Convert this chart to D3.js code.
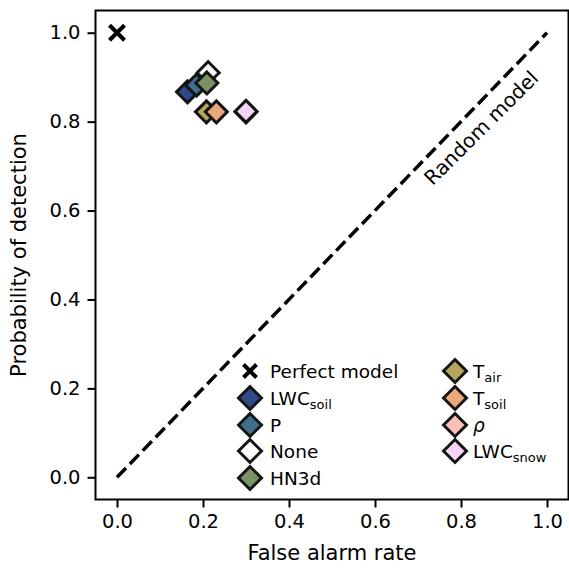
<!DOCTYPE html>
<html>
<head>
<meta charset="utf-8">
<script src="https://cdn.jsdelivr.net/npm/d3@7"></script>
<style>
  body { margin: 0; background: #fff; }
  svg { display: block; font-family: 'DejaVu Sans', sans-serif; }
</style>
</head>
<body>
<div id="chart"></div>
<script>
// model names (base + subscript), false alarm rate and probability of detection
const models = ['LWC_soil', 'P', 'None', 'HN3d', 'T_air', 'T_soil', 'rho', 'LWC_snow'];
const labelBase = ['LWC', 'P', 'None', 'HN3d', 'T', 'T', 'ρ', 'LWC'];
const labelSub = ['soil', '', '', '', 'air', 'soil', '', 'snow'];
const colors = ['#2e4a87', '#3f6f8c', '#ffffff', '#7a9166', '#b5a55d', '#eaa979', '#f8c0b7', '#f7d3f5'];
const falseAlarm = [0.164, 0.185, 0.212, 0.209, 0.208, 0.231, 0.300, 0.300];
const detection = [0.867, 0.882, 0.910, 0.887, 0.822, 0.822, 0.822, 0.823];

const perfect = { far: 0, pod: 1 };
const ticks = [0, 0.2, 0.4, 0.6, 0.8, 1.0];

const WIDTH = 569, HEIGHT = 570;
const margin = { LEFT: 95.5, RIGHT: 0.5, TOP: 10.5, BOTTOM: 70.5 };

const svg = d3.select('#chart').append('svg')
  .attr('width', WIDTH)
  .attr('height', HEIGHT);

const x = d3.scaleLinear().domain([-0.05, 1.05]).range([margin.LEFT, WIDTH - margin.RIGHT]);
const y = d3.scaleLinear().domain([-0.05, 1.05]).range([HEIGHT - margin.BOTTOM, margin.TOP]);

const EDGE = '#151515';

// diamond like matplotlib 'D'
const diamond = (r) => `M0,${-r}L${r},0L0,${r}L${-r},0Z`;
const cross = (r) => `M${-r},${-r}L${r},${r}M${-r},${r}L${r},${-r}`;

// random model line
svg.append('line')
  .attr('x1', x(0)).attr('y1', y(0))
  .attr('x2', x(1)).attr('y2', y(1))
  .attr('stroke', '#000')
  .attr('stroke-width', 3.5)
  .attr('stroke-dasharray', '12.95,5.6');

svg.append('text')
  .attr('transform', `translate(${x(0.847)},${y(0.786)}) rotate(-45)`)
  .attr('text-anchor', 'middle')
  .attr('dominant-baseline', 'central')
  .attr('font-size', '20px')
  .text('Random model');

// perfect model
svg.append('path')
  .attr('d', cross(7.5))
  .attr('transform', `translate(${x(perfect.far)},${y(perfect.pod)})`)
  .attr('stroke', '#000')
  .attr('stroke-width', 4)
  .attr('fill', 'none');

// model points
models.forEach((m, i) => {
  svg.append('path')
    .attr('d', diamond(11))
    .attr('transform', `translate(${x(falseAlarm[i])},${y(detection[i])})`)
    .attr('fill', colors[i])
    .attr('stroke', EDGE)
    .attr('stroke-width', 3);
});

// axes frame
svg.append('rect')
  .attr('x', margin.LEFT).attr('y', margin.TOP)
  .attr('width', WIDTH - margin.RIGHT - margin.LEFT)
  .attr('height', HEIGHT - margin.BOTTOM - margin.TOP)
  .attr('fill', 'none')
  .attr('stroke', '#000')
  .attr('stroke-width', 2);

const xAxis = svg.append('g')
  .attr('transform', `translate(0,${HEIGHT - margin.BOTTOM})`)
  .call(d3.axisBottom(x).tickValues(ticks).tickFormat(d3.format('.1f')).tickSizeOuter(0).tickSizeInner(8).tickPadding(7));
const yAxis = svg.append('g')
  .attr('transform', `translate(${margin.LEFT},0)`)
  .call(d3.axisLeft(y).tickValues(ticks).tickFormat(d3.format('.1f')).tickSizeOuter(0).tickSizeInner(8).tickPadding(7));

[xAxis, yAxis].forEach(a => {
  a.select('.domain').remove();
  a.selectAll('.tick line').attr('stroke-width', 2).attr('stroke', '#000');
  a.selectAll('.tick text')
    .attr('font-family', "'DejaVu Sans', sans-serif")
    .attr('font-size', '19.5px')
    .attr('fill', '#000');
});

// axis labels
svg.append('text')
  .attr('x', (margin.LEFT + WIDTH - margin.RIGHT) / 2)
  .attr('y', 560)
  .attr('text-anchor', 'middle')
  .attr('font-size', '21px')
  .text('False alarm rate');

svg.append('text')
  .attr('transform', `translate(26,${(margin.TOP + HEIGHT - margin.BOTTOM) / 2}) rotate(-90)`)
  .attr('text-anchor', 'middle')
  .attr('font-size', '21px')
  .text('Probability of detection');

// legend
const legendRows = [371, 398, 425, 451, 478];
const legendItems = [{ type: 'cross', base: 'Perfect model', sub: '' }]
  .concat(models.map((m, i) => ({ type: 'diamond', base: labelBase[i], sub: labelSub[i], color: colors[i], italic: m === 'rho' })));

legendItems.forEach((item, i) => {
  const col = i < 5 ? 0 : 1;
  const row = i < 5 ? i : i - 5;
  const mx = col === 0 ? 250 : 455;
  const tx = col === 0 ? 270 : 473;
  const my = legendRows[row];
  const g = svg.append('g');

  if( item.type === 'cross' ) {
    g.append('path')
      .attr('d', cross(6.5))
      .attr('transform', `translate(${mx},${my})`)
      .attr('stroke', '#000')
      .attr('stroke-width', 4)
      .attr('fill', 'none');
  } else {
    g.append('path')
      .attr('d', diamond(11.5))
      .attr('transform', `translate(${mx},${my})`)
      .attr('fill', item.color)
      .attr('stroke', EDGE)
      .attr('stroke-width', 3);
  }

  const t = g.append('text')
    .attr('x', tx)
    .attr('y', my + 6.5)
    .attr('font-size', '18.5px');
  t.append('tspan')
    .attr('font-style', item.italic ? 'italic' : null)
    .text(item.base);
  if( item.sub ) {
    t.append('tspan')
      .attr('font-size', '13px')
      .attr('dy', 4)
      .text(item.sub);
  }
});
</script>
</body>
</html>
